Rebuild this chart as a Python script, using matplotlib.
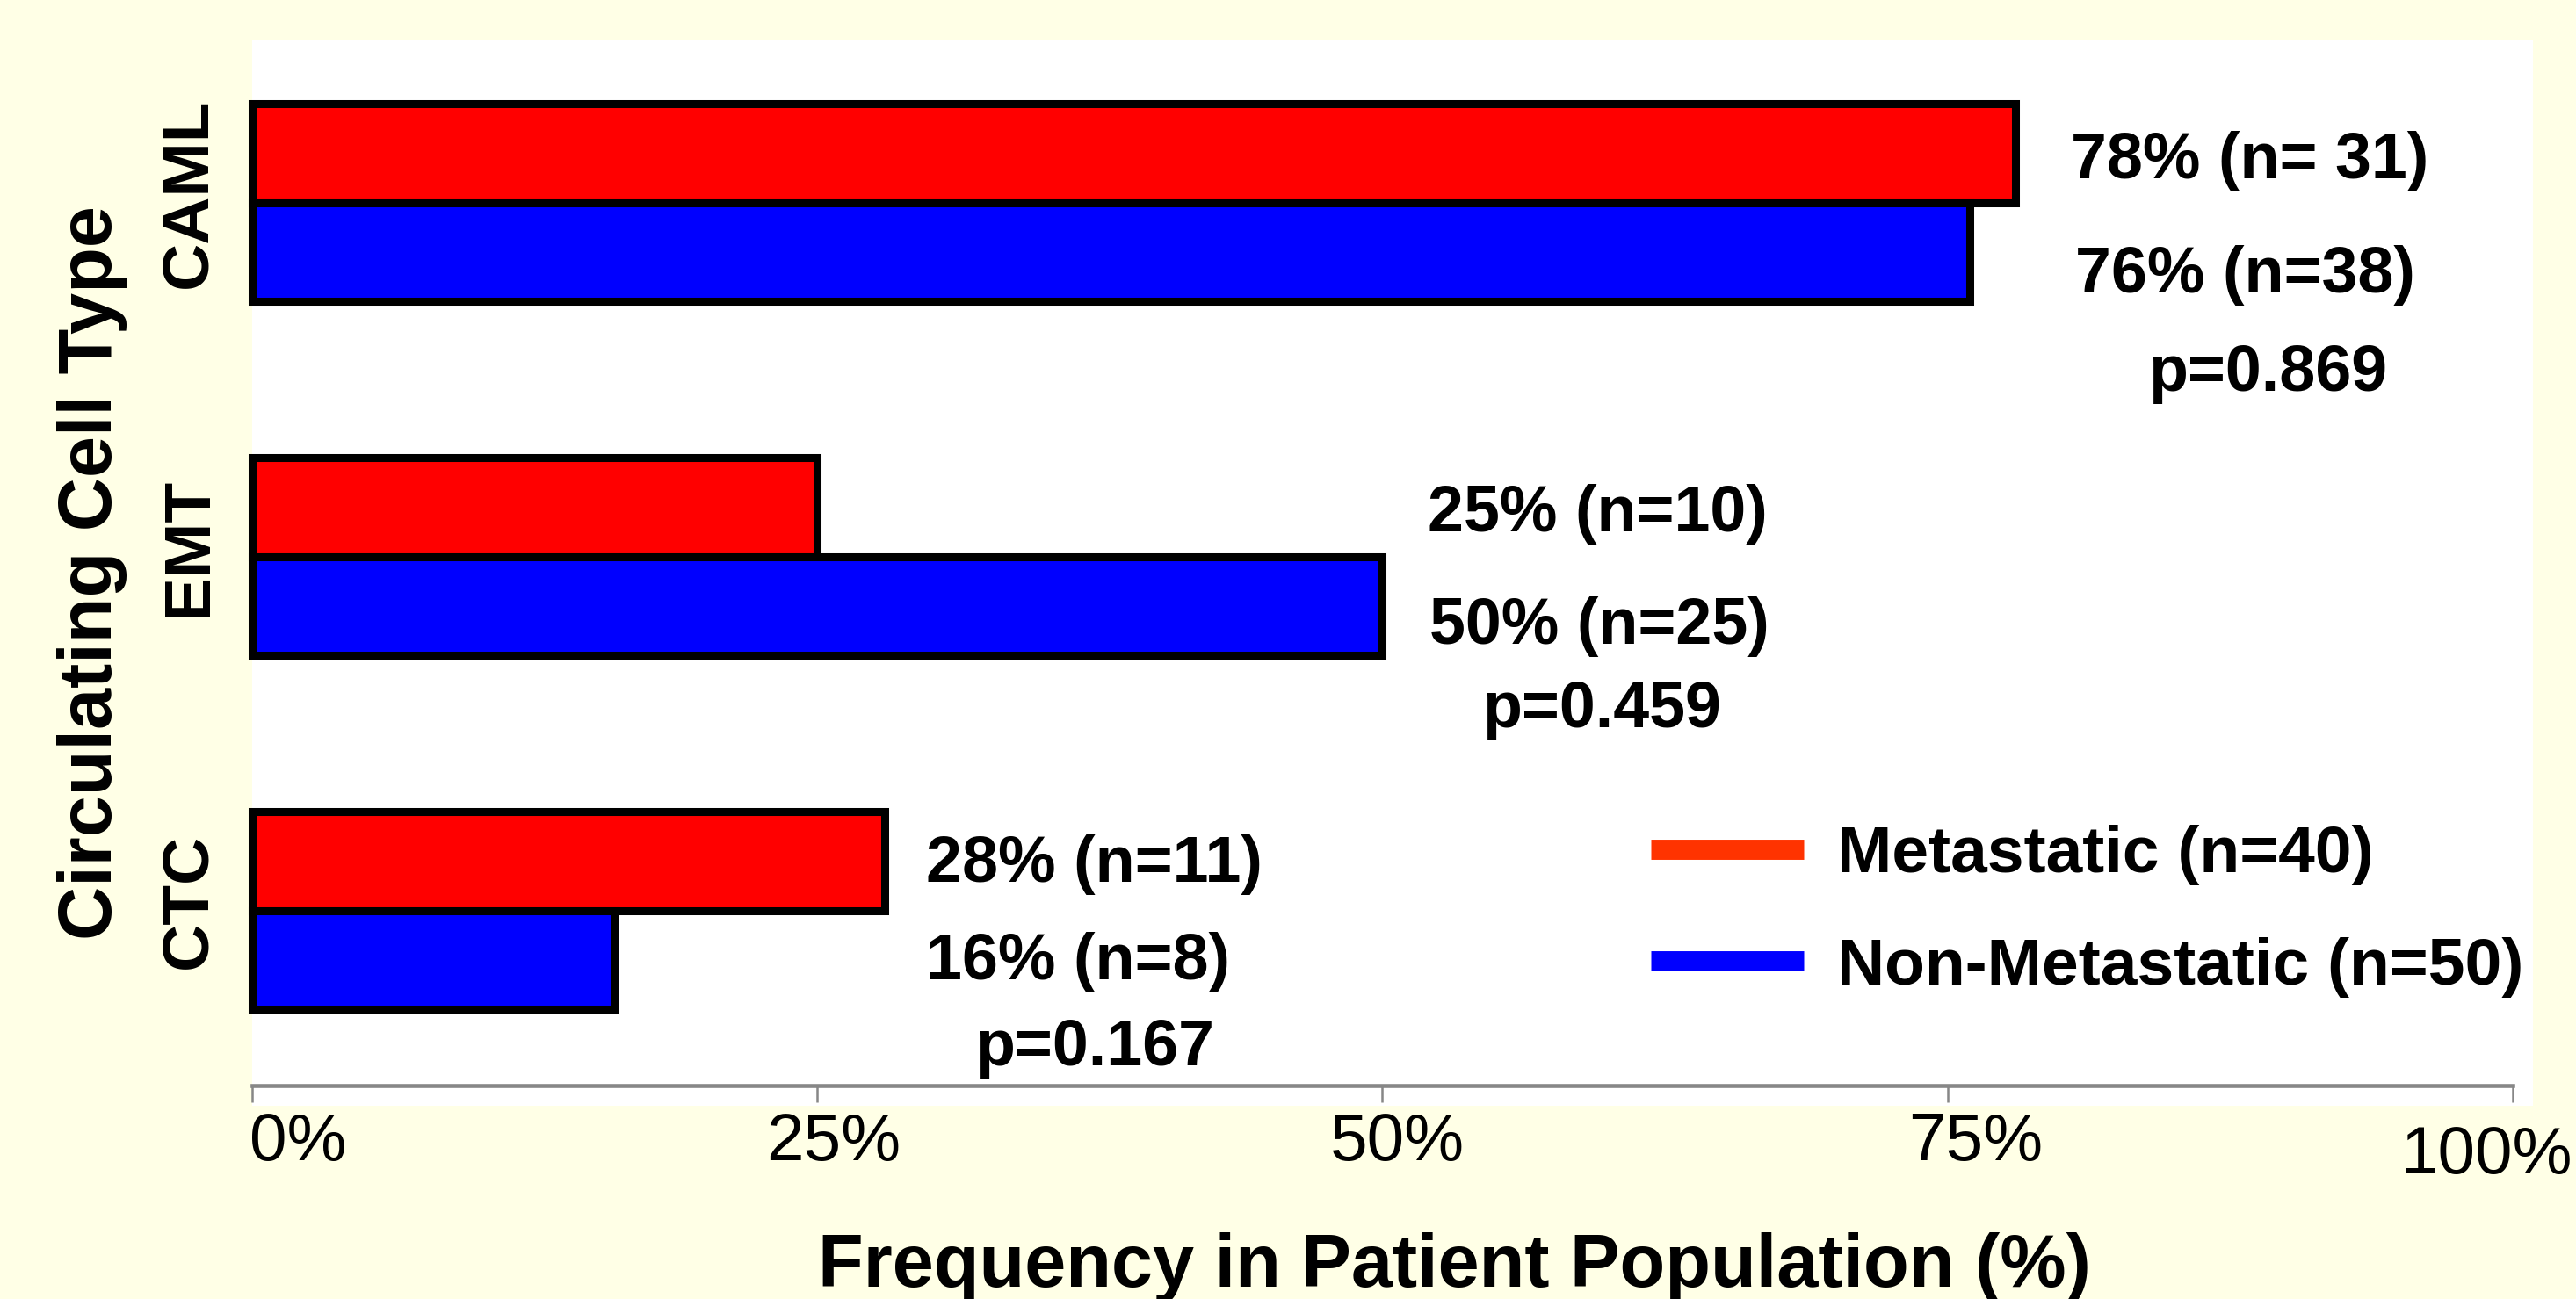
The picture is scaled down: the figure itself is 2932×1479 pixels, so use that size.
import matplotlib
matplotlib.use('Agg')
import matplotlib.pyplot as plt
from matplotlib.lines import Line2D
from matplotlib.transforms import ScaledTranslation

# data (bottom to top)
categories = ['CTC', 'EMT', 'CAML']
metastatic = [28, 25, 78]
non_metastatic = [16, 50, 76]
met_labels = ['28% (n=11)', '25% (n=10)', '78% (n= 31)']
non_labels = ['16% (n=8)', '50% (n=25)', '76% (n=38)']
p_labels = ['p=0.167', 'p=0.459', 'p=0.869']
legend_labels = ['Metastatic (n=40)', 'Non-Metastatic (n=50)']
xticks = [0, 25, 50, 75, 100]
xtick_labels = ['0%', '25%', '50%', '75%', '100%']

# where the annotation text sits (x, baseline y) in data units
met_pos = [(29.8, 0.081), (52.0, 1.071), (80.45, 2.068)]
non_pos = [(29.8, -0.195), (52.1, 0.753), (80.65, 1.746)]
p_pos = [(32.0, -0.438), (54.4, 0.517), (83.9, 1.468)]

plt.rcParams['font.family'] = ['Liberation Sans', 'DejaVu Sans']
bg = '#FFFFE6'
grey = '#878787'

fig = plt.figure(figsize=(29.32, 14.79), dpi=100, facecolor=bg)
ax = fig.add_axes([0.0979, 0.1487, 0.8854, 0.8202])
ax.set_facecolor('white')

h = 0.28
pos = list(range(len(categories)))
ax.barh([p + h/2 for p in pos], metastatic, height=h, color='#FF0000',
        edgecolor='black', linewidth=6.5, clip_on=False)
ax.barh([p - h/2 for p in pos], non_metastatic, height=h, color='#0000FF',
        edgecolor='black', linewidth=6.5, clip_on=False)

ax.set_xlim(0, 100.9)
ax.set_ylim(-0.552, 2.458)

for i in range(len(categories)):
    ax.text(met_pos[i][0], met_pos[i][1], met_labels[i], fontsize=53,
            fontweight='bold', va='baseline', ha='left')
    ax.text(non_pos[i][0], non_pos[i][1], non_labels[i], fontsize=53,
            fontweight='bold', va='baseline', ha='left')
    ax.text(p_pos[i][0], p_pos[i][1], p_labels[i], fontsize=53,
            fontweight='bold', va='baseline', ha='left')

# spines
for s in ['top', 'right', 'left']:
    ax.spines[s].set_visible(False)
ax.spines['bottom'].set_position(('data', -0.494))
ax.spines['bottom'].set_bounds(0, 100)
ax.spines['bottom'].set_color(grey)
ax.spines['bottom'].set_linewidth(3.3)

ax.set_xticks(xticks)
ax.set_xticklabels(xtick_labels)
ax.tick_params(axis='x', direction='out', length=14, width=1.8, color=grey,
               labelsize=55, pad=2)
ax.set_yticks(pos)
ax.set_yticklabels(categories, rotation=90, va='center', fontsize=54,
                   fontweight='bold')
ax.tick_params(axis='y', length=0, pad=27)

# nudge the tick labels like in the original
offsets = [(-3, 8), (18, 8), (17, 8), (32, 8), (-30, 23)]
for lab, (dx, dy) in zip(ax.get_xticklabels(), offsets):
    lab.set_transform(lab.get_transform() +
                      ScaledTranslation(dx/100, -dy/100, fig.dpi_scale_trans))
ax.get_xticklabels()[0].set_ha('left')
for lab in ax.get_yticklabels():
    lab.set_transform(lab.get_transform() +
                      ScaledTranslation(0, 11/100, fig.dpi_scale_trans))

ax.set_xlabel('Frequency in Patient Population (%)', fontsize=61,
              fontweight='bold')
ax.xaxis.set_label_coords(0.527, -0.119)
ax.set_ylabel('Circulating Cell Type', fontsize=61, fontweight='bold')
ax.yaxis.set_label_coords(-0.0547, 0.5)

handles = [Line2D([], [], color='#FF3300', lw=16.5, solid_capstyle='butt'),
           Line2D([], [], color='#0000FF', lw=16.5, solid_capstyle='butt')]
leg = ax.legend(handles, legend_labels, loc='upper left',
                bbox_to_anchor=(0.641, 0.365), bbox_transform=fig.transFigure,
                frameon=False, borderpad=0, borderaxespad=0,
                handlelength=2.32, handletextpad=0.5, labelspacing=0.78,
                prop={'size': 54, 'weight': 'bold'})

plt.savefig('out.png', dpi=100, facecolor=bg)
